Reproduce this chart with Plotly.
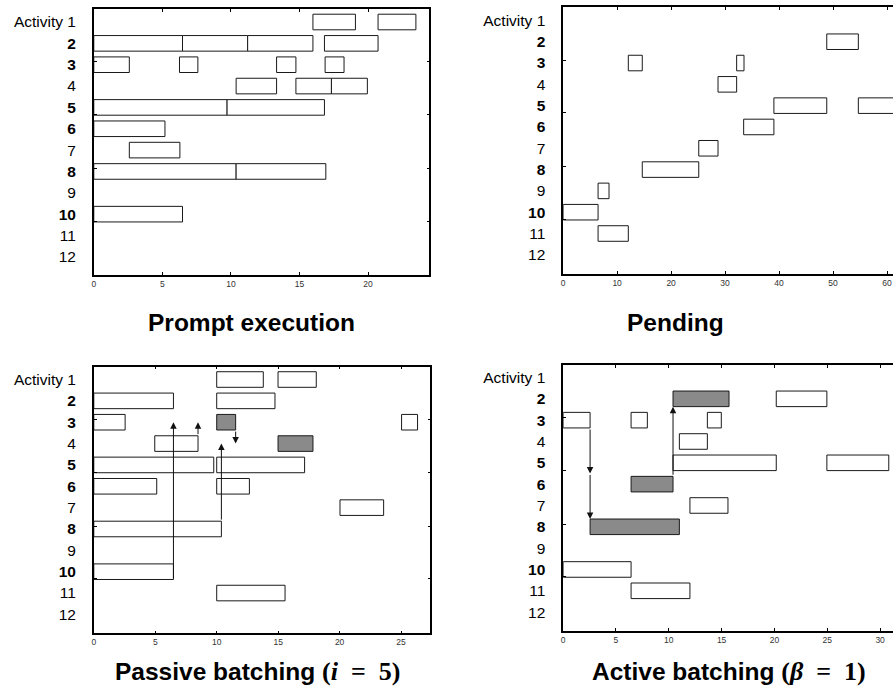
import plotly.graph_objects as go

# ---------------- data ----------------
row_labels = ["Activity 1", "<b>2</b>", "<b>3</b>", "4", "<b>5</b>", "<b>6</b>", "7",
              "<b>8</b>", "9", "<b>10</b>", "11", "12"]
rows_all = list(range(1, 13))

# Prompt execution
pe_rows = [1, 1, 2, 2, 2, 2, 3, 3, 3, 3, 4, 4, 4, 5, 5, 6, 7, 8, 8, 10]
pe_start = [15.98, 20.73, 0, 6.47, 11.22, 16.82, 0, 6.25, 13.33, 16.87, 10.38, 14.74, 17.33,
            0, 9.72, 0, 2.59, 0, 10.38, 0]
pe_end = [19.08, 23.49, 6.47, 11.22, 15.98, 20.73, 2.59, 7.59, 14.74, 18.25, 13.33, 17.33, 19.95,
          9.72, 16.82, 5.19, 6.28, 10.38, 16.92, 6.47]
pe_shaded = [0] * 20

# Pending
pd_rows = [2, 3, 3, 4, 5, 5, 6, 7, 8, 9, 10, 11]
pd_start = [48.83, 12.07, 32.14, 28.69, 39.04, 54.68, 33.44, 25.12, 14.66, 6.47, 0, 6.47]
pd_end = [54.68, 14.66, 33.50, 32.14, 48.83, 66.0, 39.04, 28.69, 25.12, 8.50, 6.47, 12.07]
pd_shaded = [0] * 12

# Passive batching (i = 5)
pb_rows = [1, 1, 2, 2, 3, 3, 3, 4, 4, 5, 5, 6, 6, 7, 8, 10, 11]
pb_start = [10, 14.99, 0, 10, 0, 10, 25.04, 4.96, 14.99, 0, 10, 0, 10, 20.03, 0, 0, 10]
pb_end = [13.79, 18.10, 6.48, 14.74, 2.55, 11.54, 26.34, 8.48, 17.83, 9.76, 17.15, 5.12, 12.66,
          23.58, 10.38, 6.48, 15.56]
pb_shaded = [0, 0, 0, 0, 0, 1, 0, 0, 1, 0, 0, 0, 0, 0, 0, 0, 0]
pb_arrow_x = [6.48, 8.48, 10.38, 11.54]
pb_arrow_from = [10.37, 3.63, 7.63, 3.37]
pb_arrow_to = [3.0, 3.0, 4.0, 4.0]

# Active batching (beta = 1)
ab_rows = [2, 2, 3, 3, 3, 4, 5, 5, 6, 7, 8, 10, 11]
ab_start = [10.4, 20.17, 0, 6.43, 13.65, 11.0, 10.4, 24.96, 6.43, 12.0, 2.55, 0, 6.43]
ab_end = [15.7, 24.96, 2.55, 7.97, 14.97, 13.65, 20.17, 30.82, 10.4, 15.6, 11.0, 6.43, 12.0]
ab_shaded = [1, 0, 0, 0, 0, 0, 0, 0, 1, 0, 1, 0, 0]
ab_arrow_x = [2.55, 2.55, 10.4]
ab_arrow_from = [3.37, 5.5, 5.63]
ab_arrow_to = [5.5, 7.63, 2.37]

MATH = "<span style=\"font-family:Liberation Serif;font-size:26px\">"
titles = ["Prompt execution", "Pending",
          "Passive batching " + MATH + "(<i>i</i>\u2002=\u20025)</span>",
          "Active batching " + MATH + "(<i>β</i>\u2002=\u20021)</span>"]
x_ranges = [[0, 24.47], [0, 61.1], [0, 27.38], [0, 31.22]]
y_ranges = [[12.85, 0.405], [12.9, 0.385], [12.885, 0.40], [12.885, 0.414]]
x_dticks = [5, 10, 5, 5]
inner_yticks = [2.87, 5.34, 7.87, 10.34]

# ---------------- layout geometry ----------------
W, H = 893, 686
def ydom(top_px, bot_px):
    return [1 - bot_px / H, 1 - top_px / H]

domains = [
    ([92 / W, 428.3 / W], ydom(9.3, 275)),
    ([562.4 / W, 1.0], ydom(7.3, 274)),
    ([92 / W, 429.3 / W], ydom(366.7, 633.3)),
    ([562.4 / W, 1.0], ydom(365, 631)),
]
is_left = [True, False, True, False]
title_pos = [(250 / W, 1 - 322 / H), (675 / W, 1 - 322 / H),
             (256 / W, 1 - 671 / H), (729 / W, 1 - 671 / H)]
bar_w = 0.73

panels = [
    (pe_rows, pe_start, pe_end, pe_shaded),
    (pd_rows, pd_start, pd_end, pd_shaded),
    (pb_rows, pb_start, pb_end, pb_shaded),
    (ab_rows, ab_start, ab_end, ab_shaded),
]

fig = go.Figure()
for i, (rws, st, en, sh) in enumerate(panels):
    k = i + 1
    xa = "x" if k == 1 else f"x{k}"
    ya = "y" if k == 1 else f"y{k}"
    for flag, col in [(0, "white"), (1, "#8a8a8a")]:
        idx = [j for j in range(len(rws)) if sh[j] == flag]
        if not idx:
            continue
        fig.add_trace(go.Bar(
            orientation="h",
            y=[rws[j] for j in idx],
            base=[st[j] for j in idx],
            x=[en[j] - st[j] for j in idx],
            width=bar_w,
            marker=dict(color=col, line=dict(color="#1a1a1a", width=1)),
            xaxis=xa, yaxis=ya, showlegend=False, hoverinfo="skip",
        ))

layout = dict(
    width=W, height=H,
    margin=dict(l=0, r=0, t=0, b=0),
    paper_bgcolor="white", plot_bgcolor="white",
    barmode="overlay",
    font=dict(family="Arial, Liberation Sans, sans-serif", color="black"),
    annotations=[], showlegend=False,
)

for i in range(4):
    k = i + 1
    xd, yd = domains[i]
    xkey = "xaxis" if k == 1 else f"xaxis{k}"
    ykey = "yaxis" if k == 1 else f"yaxis{k}"
    ya = "y" if k == 1 else f"y{k}"
    xa = "x" if k == 1 else f"x{k}"
    layout[xkey] = dict(
        domain=xd, range=x_ranges[i], anchor=ya, dtick=x_dticks[i], tick0=0,
        ticks="inside", ticklen=3, tickcolor="black", tickwidth=1,
        showline=True, linecolor="black", linewidth=1.5, mirror="ticks",
        showgrid=False, zeroline=False,
        tickfont=dict(size=8.5, color="#333333"),
    )
    layout[ykey] = dict(
        domain=yd, range=y_ranges[i], anchor=xa,
        tickmode="array", tickvals=rows_all, ticktext=row_labels,
        ticks="", showline=True, linecolor="black", linewidth=1.5,
        mirror=is_left[i], showgrid=False, zeroline=False,
        tickfont=dict(size=15.5, color="black"), ticklabelstandoff=13,
    )
    okey = f"yaxis{k + 4}"
    layout[okey] = dict(
        overlaying=ya, anchor=xa, range=y_ranges[i], side="left",
        tickmode="array", tickvals=inner_yticks,
        ticks="inside", ticklen=3, tickcolor="black", tickwidth=1,
        showticklabels=False, showline=True, linecolor="black", linewidth=1.5,
        mirror="ticks" if is_left[i] else False,
        showgrid=False, zeroline=False,
    )
    tx, ty = title_pos[i]
    layout["annotations"].append(dict(
        text=f"<b>{titles[i]}</b>", x=tx, y=ty, xref="paper", yref="paper",
        showarrow=False, xanchor="center", yanchor="middle",
        font=dict(size=24.5, color="black", family="Arial, Liberation Sans, sans-serif"),
    ))

arrow_sets = [(3, pb_arrow_x, pb_arrow_from, pb_arrow_to), (4, ab_arrow_x, ab_arrow_from, ab_arrow_to)]
for k, axs, afrom, ato in arrow_sets:
    xa = f"x{k}"
    ya = f"y{k}"
    for xv, y0, y1 in zip(axs, afrom, ato):
        layout["annotations"].append(dict(
            x=xv, y=y1, ax=xv, ay=y0, xref=xa, yref=ya, axref=xa, ayref=ya,
            text="", showarrow=True, arrowhead=2, arrowsize=1.3, arrowwidth=1,
            arrowcolor="#111111", standoff=0, startstandoff=0,
        ))

fig.update_layout(**layout)
# keep overlay axes drawn
for i in range(4):
    k = i + 1
    xa = "x" if k == 1 else f"x{k}"
    fig.add_trace(go.Scatter(x=[None], y=[None], xaxis=xa, yaxis=f"y{k + 4}",
                             mode="markers", showlegend=False, hoverinfo="skip"))

fig.write_html("out.html", config={"displayModeBar": False},
               post_script="document.body.style.margin='0px';document.body.style.overflow='hidden';")
